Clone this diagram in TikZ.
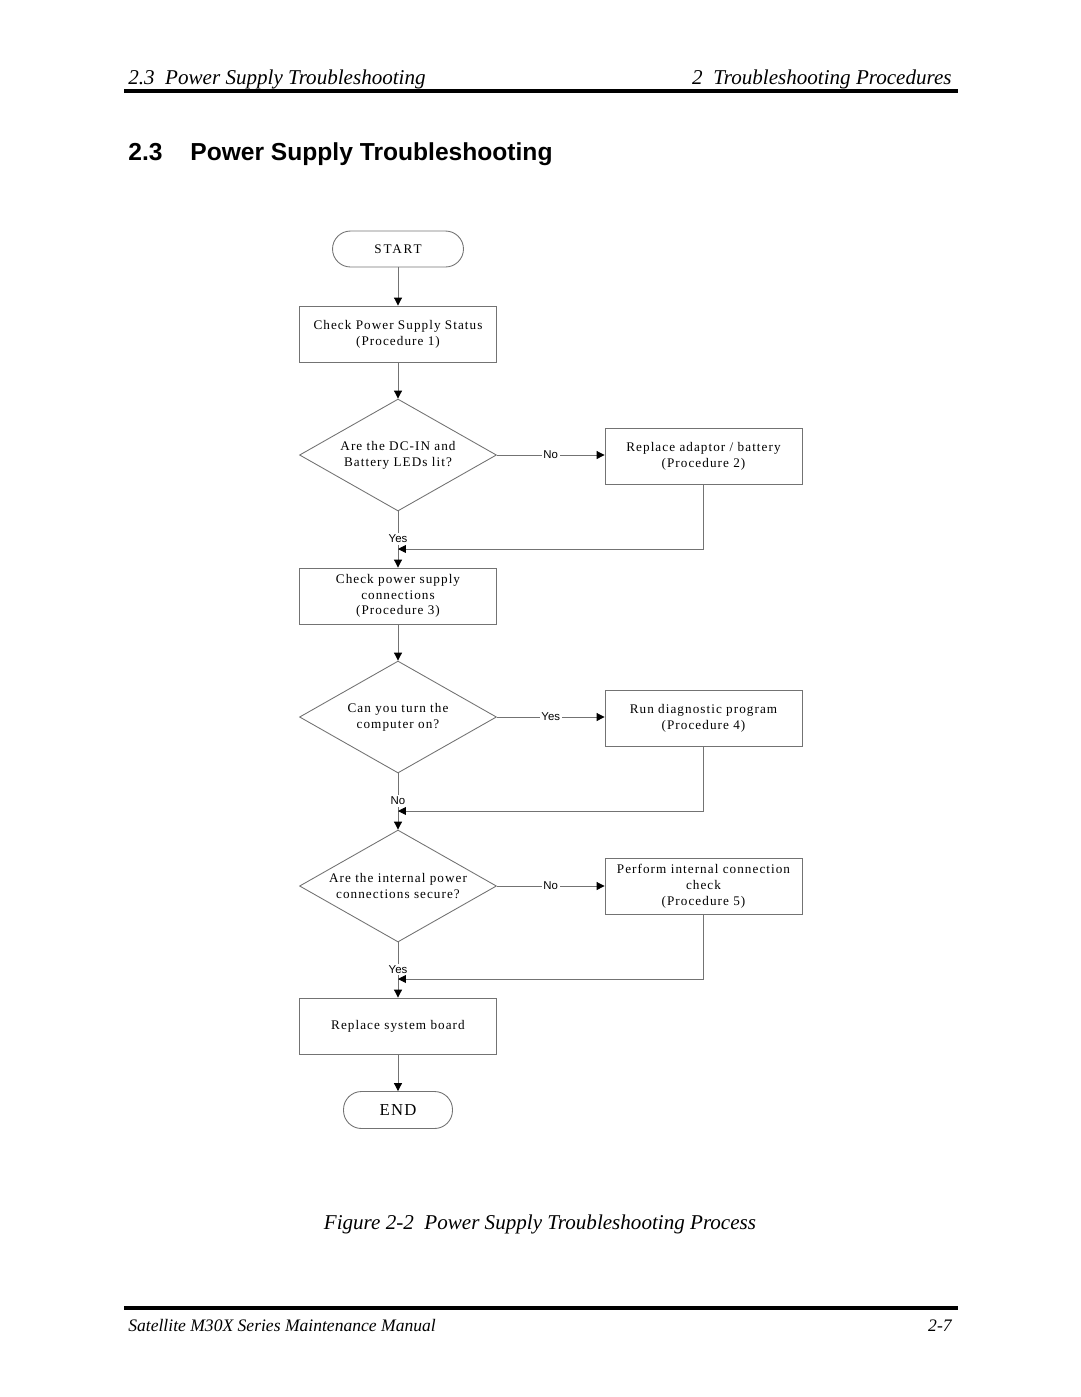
\documentclass[tikz,border=0pt]{standalone}
\usepackage{fontspec}
\setmainfont{Liberation Serif}
\newfontfamily\headfont{Liberation Sans}
\newfontfamily\chartfont[LetterSpace=8]{Liberation Serif}
\newfontfamily\termfont[LetterSpace=14]{Liberation Serif}
\usetikzlibrary{shapes.geometric}
\usetikzlibrary{arrows.meta}

\tikzset{
  flowline/.style={draw=black!55, line width=0.5pt},
  procbox/.style={flowline, rectangle, minimum width=3.94cm, minimum height=1.12cm,
    inner sep=0pt, align=center, font=\chartfont\fontsize{7.5}{9}\selectfont},
  decision/.style={flowline, diamond, aspect=1.76, minimum width=3.94cm, minimum height=2.24cm,
    inner sep=0pt, align=center, font=\chartfont\fontsize{7.5}{9}\selectfont},
  terminal/.style={flowline, rectangle, rounded corners=0.36cm, inner sep=0pt, align=center},
  branch/.style={fill=white, inner sep=1pt, font=\headfont\fontsize{6.5}{7}\selectfont},
  pagetext/.style={inner sep=0pt, font=\itshape\fontsize{12}{14}\selectfont},
  pagerule/.style={line width=2pt},
  >={Triangle[length=4.5pt,width=4.5pt,color=black]}
}

\begin{document}
\begin{tikzpicture}[x=0.02cm,y=-0.02cm]
  \useasboundingbox (0,0) rectangle (1080,1397);

  \node[pagetext, anchor=base west] (hleft) at (128,84) {2.3\ \ Power Supply Troubleshooting};
  \node[pagetext, anchor=base east] (hright) at (952,84) {2\ \ Troubleshooting Procedures};
  \draw[pagerule] (124,91) -- (958,91);

  \node[anchor=base west, inner sep=0pt, font=\headfont\bfseries\fontsize{14}{16}\selectfont]
    (secnum) at (128,160) {2.3};
  \node[anchor=base west, inner sep=0pt, font=\headfont\bfseries\fontsize{14}{16}\selectfont]
    (sectitle) at (190,160) {Power Supply Troubleshooting};

  \node[terminal, minimum width=2.62cm, minimum height=0.72cm,
    font=\termfont\fontsize{7.5}{9}\selectfont] (start) at (398,249) {START};
  \node[procbox] (b1) at (398,334) {Check Power Supply Status\\(Procedure 1)};
  \node[decision] (q1) at (398,455) {Are the DC-IN and\\Battery LEDs lit?};
  \node[procbox] (b2) at (703.5,456) {Replace adaptor / battery\\(Procedure 2)};
  \node[procbox] (b3) at (398,596) {Check power supply\\connections\\(Procedure 3)};
  \node[decision] (q2) at (398,717) {Can you turn the\\computer on?};
  \node[procbox] (b4) at (703.5,718) {Run diagnostic program\\(Procedure 4)};
  \node[decision] (q3) at (398,886) {Are the internal power\\connections secure?};
  \node[procbox] (b5) at (703.5,886) {Perform internal connection\\check\\(Procedure 5)};
  \node[procbox] (b6) at (398,1026) {Replace system board};
  \node[terminal, minimum width=2.18cm, minimum height=0.74cm,
    font=\chartfont\fontsize{9.5}{11}\selectfont] (end) at (398,1110) {END};

  \coordinate (m1) at (398,549);
  \coordinate (m2) at (398,811);
  \coordinate (m3) at (398,979);

  \draw[flowline,->] (start) -- (b1);
  \draw[flowline,->] (b1) -- (q1);
  \draw[flowline,->] (q1.east) -- (b2.west |- q1.east) node[branch, midway] {No};
  \draw[flowline,->] (q1.south) -- (b3.north) node[branch, pos=.49] {Yes};
  \draw[flowline,->] (b2.south) |- (m1);
  \draw[flowline,->] (b3) -- (q2);
  \draw[flowline,->] (q2.east) -- (b4.west |- q2.east) node[branch, midway] {Yes};
  \draw[flowline,->] (q2.south) -- (q3.north) node[branch, pos=.49] {No};
  \draw[flowline,->] (b4.south) |- (m2);
  \draw[flowline,->] (q3.east) -- (b5.west) node[branch, midway] {No};
  \draw[flowline,->] (q3.south) -- (b6.north) node[branch, pos=.49] {Yes};
  \draw[flowline,->] (b5.south) |- (m3);
  \draw[flowline,->] (b6) -- (end);

  \node[pagetext, anchor=base] (caption) at (540,1229)
    {Figure 2-2\ \ Power Supply Troubleshooting Process};

  \draw[pagerule] (124,1308) -- (958,1308);
  \node[pagetext, anchor=base west, font=\itshape\fontsize{10}{12}\selectfont] (fleft) at (128,1331)
    {Satellite M30X Series Maintenance Manual};
  \node[pagetext, anchor=base east, font=\itshape\fontsize{10}{12}\selectfont] (fright) at (952,1331) {2-7};
\end{tikzpicture}
\end{document}
